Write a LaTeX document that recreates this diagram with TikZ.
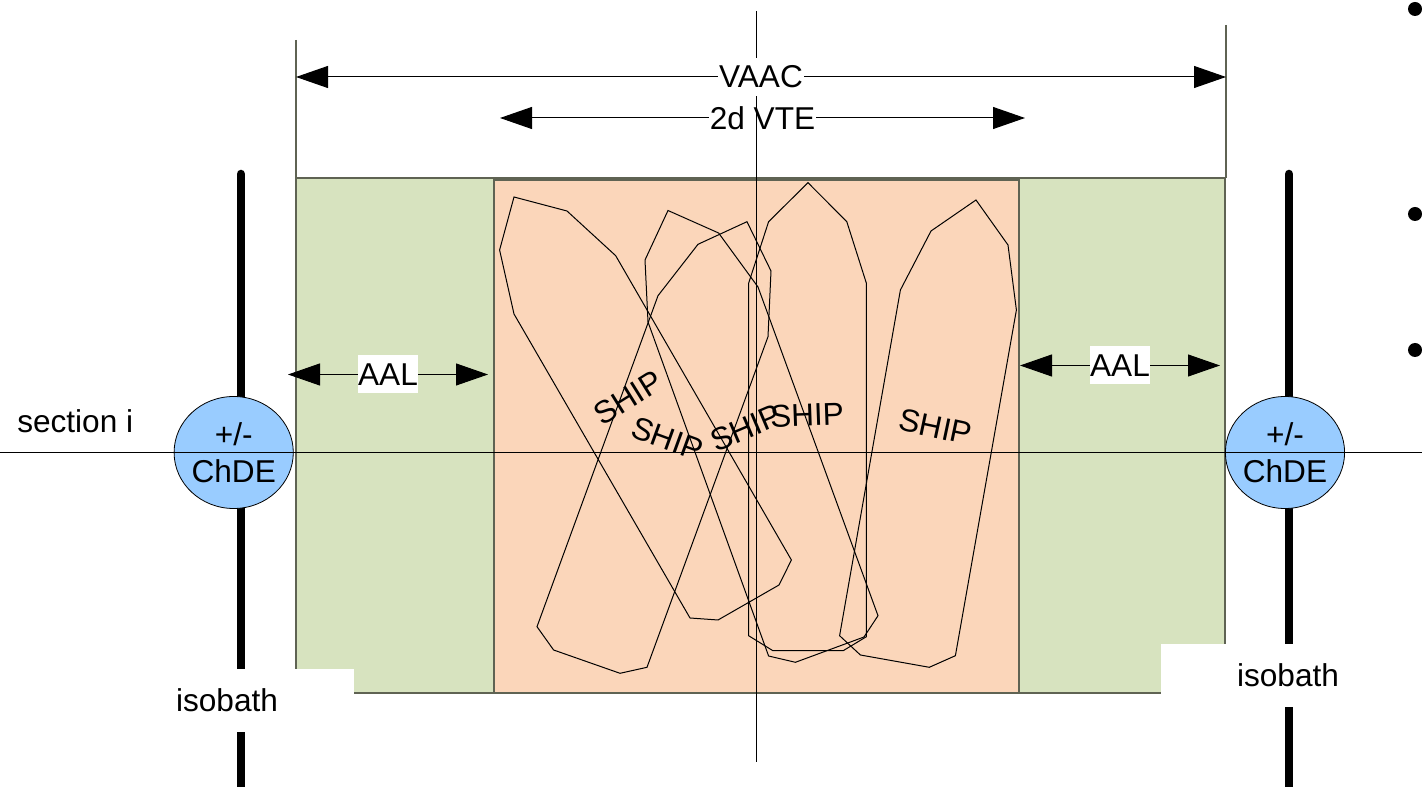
\documentclass[tikz,border=0pt]{standalone}
\usepackage{fontspec}
\setmainfont{Liberation Sans}
\usetikzlibrary{arrows.meta}
\usetikzlibrary{shapes.geometric}
\definecolor{zonegreen}{HTML}{D7E3BF}
\definecolor{zonepeach}{HTML}{FBD6BA}
\definecolor{chdeblue}{HTML}{99CCFF}
\definecolor{zoneline}{HTML}{5F6353}
\tikzset{
dim/.style={{Triangle[length=24pt,width=16.5pt]}-{Triangle[length=24pt,width=16.5pt]}, line width=0.75pt},
dimlabel/.style={fill=white, inner sep=0pt, minimum width=45pt, minimum height=28.5pt},
ship/.style={draw=black, line width=0.75pt, line join=miter},
shiplabel/.style={inner sep=0pt},
isobath/.style={line width=6.4pt, line cap=round},
chde/.style={ellipse, draw=black, fill=chdeblue, line width=0.6pt, inner sep=0pt, minimum width=88pt, minimum height=84pt, align=center},
whitebox/.style={fill=white, inner sep=0pt, minimum width=191pt, minimum height=47pt},
bullet/.style={circle, fill=black, inner sep=0pt, minimum size=10.5pt}
}

\begin{document}
\begin{tikzpicture}[x=0.75pt,y=-0.75pt,font=\fontsize{23.7}{27.5}\selectfont]
\useasboundingbox (0,0) rectangle (1422,787);

% zones
\draw[zoneline,fill=zonegreen,line width=0.8pt] (296,178) rectangle (1225,693);
\draw[zoneline,fill=zonepeach,line width=0.8pt] (494,180) rectangle (1019,693);

% isobaths
\draw[isobath] (240.8,174) -- (240.8,787);
\draw[isobath] (1289,174) -- (1289,787);

% ships
\draw[ship] (514,197) -- (567,211) -- (615.7,255.7) -- (791.4,560) -- (779,585) -- (718,620) -- (690,618) -- (514,314) -- (499.6,250) -- cycle;
\draw[ship] (668,210.5) -- (718.6,233) -- (758,287) -- (878,615.7) -- (864,637) -- (795.4,662.3) -- (768.6,656) -- (648,322) -- (645,260) -- cycle;
\draw[ship] (747,221.7) -- (771,271) -- (768,336.7) -- (647,667.3) -- (620,673.3) -- (553.6,650) -- (537,626.7) -- (658,295.7) -- (698,244.3) -- cycle;
\draw[ship] (808,182.7) -- (846.8,221.7) -- (866.4,283.3) -- (866.4,636.7) -- (843.2,650.7) -- (772.9,650.7) -- (748.6,635.7) -- (748.6,283.3) -- (768.6,221.7) -- cycle;
\draw[ship] (976,200) -- (1008,245) -- (1016.4,310) -- (955.4,655.7) -- (929.3,667.3) -- (860.4,655) -- (839.6,635.7) -- (900.4,290) -- (931,231) -- cycle;

\node[shiplabel,rotate=32] (shipa) at (628,398) {SHIP};
\node[shiplabel,rotate=-20] (shipb) at (667.5,439) {SHIP};
\node[shiplabel,rotate=23] (shipc) at (746,428) {SHIP};
\node[shiplabel,rotate=2] (shipd) at (807,415) {SHIP};
\node[shiplabel,rotate=-12] (shipe) at (935.4,427) {SHIP};

% extents
\coordinate (vaacleft) at (296,77);
\coordinate (vaacright) at (1226,77);
\coordinate (vteleft) at (500,118);
\coordinate (vteright) at (1025,118);
\coordinate (aalaleft) at (288,374.5);
\coordinate (aalaright) at (488,374.5);
\coordinate (aalbleft) at (1020,365.5);
\coordinate (aalbright) at (1220,365.5);

\draw[dim] (vteleft) -- node[dimlabel,minimum width=80pt] (vte) {2d VTE} (vteright);
\draw[dim] (aalaleft) -- node[dimlabel] (aala) {AAL} (aalaright);
\draw[dim] (aalbleft) -- node[dimlabel] (aalb) {AAL} (aalbright);

\draw[zoneline,line width=0.8pt] (296,40) -- (296,178);
\draw[zoneline,line width=0.8pt] (1226,25) -- (1226,178);

% channel edges
\node[chde] (chdea) at (233.7,452.5) {+/-\\ChDE};
\node[chde] (chdeb) at (1285,452.5) {+/-\\ChDE};

% section and centre line
\draw[line width=0.75pt] (0,453) -- (1422,453);
\draw[line width=0.75pt] (756.5,11) -- (756.5,762);
\draw[dim] (vaacleft) -- node[dimlabel,minimum width=65pt] (vaac) {VAAC} (vaacright);
\node[anchor=west,inner sep=0pt] (section) at (17,421) {section i};

\node[whitebox] (isobatha) at (227,700.5) {isobath};
\node[whitebox] (isobathb) at (1288,675.5) {isobath};

\foreach \y in {9,214,350}
     \node[bullet] (dot\y) at (1415,\y) {};

\end{tikzpicture}
\end{document}
